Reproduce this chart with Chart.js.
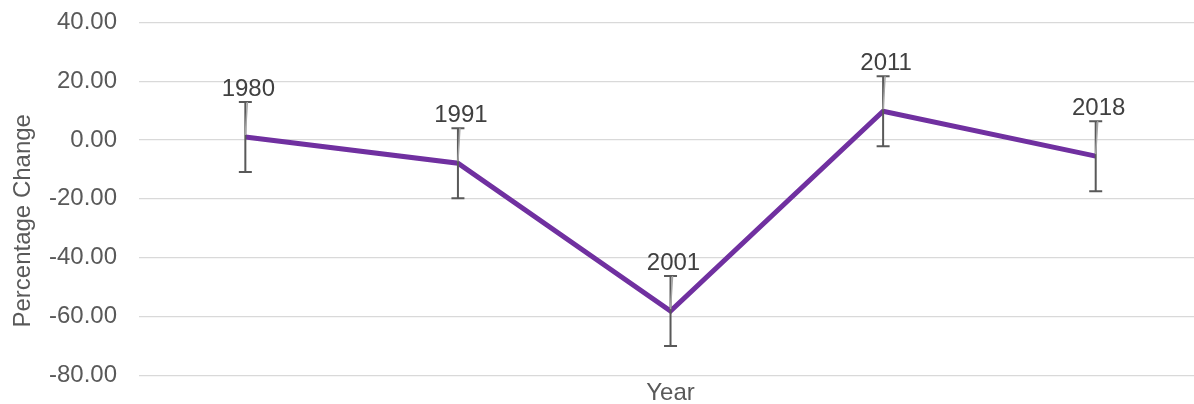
<!DOCTYPE html>
<html>
<head>
<meta charset="utf-8">
<script src="https://cdn.jsdelivr.net/npm/chart.js@4.4.1/dist/chart.umd.min.js"></script>
<style>
  html, body { margin: 0; padding: 0; background: #fff; overflow: hidden; }
  #wrap { width: 1202px; height: 426px; margin-top: -14px; }
</style>
</head>
<body>
<div id="wrap"><canvas id="grafico"></canvas></div>
<script>
// anos e variação percentual
let anos = ["1980", "1991", "2001", "2011", "2018"];
let variacao = [1.0, -7.9, -58.2, 9.8, -5.5];
let erro = [11.9, 11.9, 11.9, 11.9, 11.9];
let ticksY = [-80, -60, -40, -20, 0, 20, 40];

const fonte = "'Liberation Sans', Arial, sans-serif";

// barras de erro, rótulos com linha de chamada e título do eixo Y
const extras = {
  id: "extras",
  afterDatasetsDraw(chart) {
    let ctx = chart.ctx;
    let y = chart.scales.y;
    let meta = chart.getDatasetMeta(0);
    ctx.save();
    meta.data.forEach((pt, i) => {
      let px = pt.x;
      let top = y.getPixelForValue(variacao[i] + erro[i]);
      let bot = y.getPixelForValue(variacao[i] - erro[i]);
      ctx.strokeStyle = "#595959";
      ctx.lineWidth = 2;
      ctx.beginPath();
      ctx.moveTo(px, top); ctx.lineTo(px, bot);
      ctx.moveTo(px - 6.5, top); ctx.lineTo(px + 6.5, top);
      ctx.moveTo(px - 6.5, bot); ctx.lineTo(px + 6.5, bot);
      ctx.stroke();

      // linha de chamada
      ctx.strokeStyle = "#a6a6a6";
      ctx.lineWidth = 1.5;
      ctx.beginPath();
      ctx.moveTo(px + 2, pt.y - 35);
      ctx.lineTo(px, pt.y - 2);
      ctx.stroke();

      ctx.fillStyle = "#404040";
      ctx.font = "24px " + fonte;
      ctx.textAlign = "center";
      ctx.textBaseline = "middle";
      ctx.fillText(anos[i], px + 3, pt.y - 48);
    });

    // título do eixo Y
    let area = chart.chartArea;
    ctx.translate(23, (area.top + area.bottom) / 2 + 22);
    ctx.rotate(-Math.PI / 2);
    ctx.fillStyle = "#595959";
    ctx.font = "24px " + fonte;
    ctx.textAlign = "center";
    ctx.textBaseline = "middle";
    ctx.fillText("Percentage Change", 0, 0);
    ctx.restore();
  }
};

let ctx = document.getElementById("grafico").getContext("2d");

new Chart(ctx, {
  type: "line",
  data: {
    labels: anos,
    datasets: [{
      data: variacao,
      borderColor: "#7030a0",
      backgroundColor: "#7030a0",
      borderWidth: 5,
      pointRadius: 0,
      tension: 0
    }]
  },
  options: {
    responsive: true,
    maintainAspectRatio: false,
    animation: false,
    layout: { padding: { top: 0, left: 27, right: 0, bottom: 0 } },
    plugins: {
      legend: { display: false },
      tooltip: { enabled: false }
    },
    scales: {
      x: {
        offset: true,
        grid: { display: false },
        border: { display: false },
        ticks: { display: false },
        title: {
          display: true,
          text: "Year",
          color: "#595959",
          font: { family: fonte, size: 24 },
          padding: { top: -4, bottom: 4 }
        }
      },
      y: {
        min: -80,
        max: 40,
        afterBuildTicks: axis => { axis.ticks = ticksY.map(v => ({ value: v })); },
        grid: { color: "#d9d9d9", lineWidth: 1.2, drawTicks: false },
        border: { display: false },
        ticks: {
          color: "#595959",
          padding: 22,
          font: { family: fonte, size: 24 },
          callback: v => v.toFixed(2)
        }
      }
    }
  },
  plugins: [extras]
});
</script>
</body>
</html>
